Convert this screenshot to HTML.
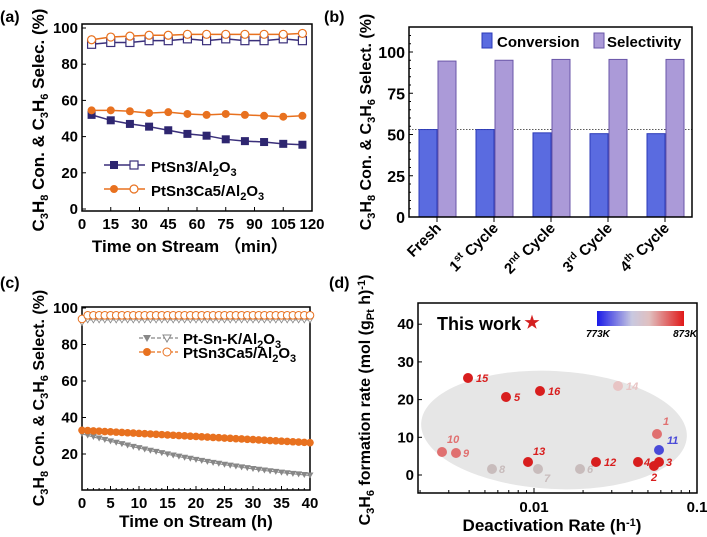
<!DOCTYPE html>
<html><head><meta charset="utf-8"><style>
body{margin:0;background:#fff}
svg{display:block;font-family:"Liberation Sans",Arial,sans-serif;font-weight:bold}
</style></head><body>
<svg id="s" width="707" height="537" viewBox="0 0 707 537" xmlns="http://www.w3.org/2000/svg">
<!-- Panel a -->
<text x="0" y="22" font-size="16">(a)</text>
<text transform="translate(44,120) rotate(-90)" text-anchor="middle" font-size="17">C<tspan font-size="11" dy="4">3</tspan><tspan dy="-4">H</tspan><tspan font-size="11" dy="4">8</tspan><tspan dy="-4"> Con. &amp; C</tspan><tspan font-size="11" dy="4">3</tspan><tspan dy="-4">H</tspan><tspan font-size="11" dy="4">6</tspan><tspan dy="-4"> Selec. (%)</tspan></text>
<rect x="82" y="24" width="230" height="187" fill="none" stroke="#000" stroke-width="1.5"/>
<g id="ga"></g>
<text x="190" y="252" text-anchor="middle" font-size="17">Time on Stream （min）</text>
<line x1="104" y1="165" x2="145" y2="165" stroke="#3a2f7a" stroke-width="1.5"/>
<rect x="110" y="161" width="8" height="8" fill="#2e2670"/>
<rect x="130" y="161" width="8" height="8" fill="#fff" stroke="#3a2f7a" stroke-width="1.2"/>
<text x="151" y="172" font-size="15">PtSn3/Al<tspan font-size="11" dy="4">2</tspan><tspan dy="-4">O</tspan><tspan font-size="11" dy="4">3</tspan></text>
<line x1="104" y1="189" x2="145" y2="189" stroke="#e8711f" stroke-width="1.5"/>
<circle cx="114" cy="189" r="4" fill="#e8711f"/>
<circle cx="134" cy="189" r="4" fill="#fff" stroke="#e8711f" stroke-width="1.2"/>
<text x="151" y="196" font-size="15">PtSn3Ca5/Al<tspan font-size="11" dy="4">2</tspan><tspan dy="-4">O</tspan><tspan font-size="11" dy="4">3</tspan></text>

<!-- Panel b -->
<text x="324" y="22" font-size="16">(b)</text>
<text transform="translate(371,122) rotate(-90)" text-anchor="middle" font-size="16">C<tspan font-size="11" dy="4">3</tspan><tspan dy="-4">H</tspan><tspan font-size="11" dy="4">8</tspan><tspan dy="-4"> Con. &amp; C</tspan><tspan font-size="11" dy="4">3</tspan><tspan dy="-4">H</tspan><tspan font-size="11" dy="4">6</tspan><tspan dy="-4"> Select. (%)</tspan></text>
<g id="gb"></g>
<rect x="409" y="27" width="283" height="190" fill="none" stroke="#000" stroke-width="1.5"/>
<rect x="482" y="33" width="10" height="15" fill="#5a6be0" stroke="#2b3ab8"/>
<text x="497" y="47" font-size="15">Conversion</text>
<rect x="594" y="33" width="10" height="15" fill="#ab9ad8" stroke="#6a56a8"/>
<text x="607" y="47" font-size="15">Selectivity</text>

<!-- Panel c -->
<text x="0" y="288" font-size="16">(c)</text>
<text transform="translate(44,398) rotate(-90)" text-anchor="middle" font-size="16">C<tspan font-size="11" dy="4">3</tspan><tspan dy="-4">H</tspan><tspan font-size="11" dy="4">8</tspan><tspan dy="-4"> Con. &amp; C</tspan><tspan font-size="11" dy="4">3</tspan><tspan dy="-4">H</tspan><tspan font-size="11" dy="4">6</tspan><tspan dy="-4"> Select. (%)</tspan></text>
<rect x="82" y="307" width="228" height="183" fill="none" stroke="#000" stroke-width="1.5"/>
<g id="gc"></g>
<text x="196" y="527" text-anchor="middle" font-size="17">Time on Stream (h)</text>
<line x1="139" y1="338" x2="178" y2="338" stroke="#888" stroke-width="1.2" stroke-dasharray="4,2"/>
<path d="M143,335 l8,0 l-4,7z" fill="#888"/>
<path d="M163,335 l8,0 l-4,7z" fill="#fff" stroke="#888"/>
<text x="183" y="344" font-size="15">Pt-Sn-K/Al<tspan font-size="11" dy="4">2</tspan><tspan dy="-4">O</tspan><tspan font-size="11" dy="4">3</tspan></text>
<line x1="139" y1="352" x2="178" y2="352" stroke="#e8711f" stroke-width="1.2" stroke-dasharray="4,2"/>
<circle cx="147" cy="352" r="4" fill="#e8711f"/>
<circle cx="167" cy="352" r="4" fill="#fff" stroke="#e8711f"/>
<text x="183" y="358" font-size="15">PtSn3Ca5/Al<tspan font-size="11" dy="4">2</tspan><tspan dy="-4">O</tspan><tspan font-size="11" dy="4">3</tspan></text>

<!-- Panel d -->
<text x="329" y="288" font-size="16">(d)</text>
<text transform="translate(370,400) rotate(-90)" text-anchor="middle" font-size="16">C<tspan font-size="11" dy="4">3</tspan><tspan dy="-4">H</tspan><tspan font-size="11" dy="4">6</tspan><tspan dy="-4"> formation rate (mol (g</tspan><tspan font-size="11" dy="4">Pt</tspan><tspan dy="-4"> h)</tspan><tspan font-size="11" dy="-5">-1</tspan><tspan dy="5">)</tspan></text>
<ellipse cx="554" cy="430" rx="133" ry="59" fill="#e6e6e6" transform="rotate(3 554 430)"/>
<rect x="418" y="303" width="279" height="190" fill="none" stroke="#000" stroke-width="1.5"/>
<g id="gd"></g>
<text x="437" y="330" font-size="18">This work</text>
<text x="532" y="328" text-anchor="middle" font-size="17" fill="#d42020">★</text>
<defs><linearGradient id="cb"><stop offset="0" stop-color="#1a1ae8"/><stop offset="0.4" stop-color="#c8c8e0"/><stop offset="0.6" stop-color="#e0c0c0"/><stop offset="1" stop-color="#e01818"/></linearGradient></defs>
<rect x="597" y="311" width="87" height="15" fill="url(#cb)"/>
<text x="586" y="337" font-size="10" font-style="italic">773K</text>
<text x="697" y="337" font-size="10" font-style="italic" text-anchor="end">873K</text>
<text x="552" y="531" text-anchor="middle" font-size="17">Deactivation Rate (h<tspan font-size="11" dy="-5">-1</tspan><tspan dy="5">)</tspan></text>
</svg>
<script>
const NS="http://www.w3.org/2000/svg";
function el(g,t,a,txt){const e=document.createElementNS(NS,t);for(const k in a)e.setAttribute(k,a[k]);if(txt!=null)e.textContent=txt;document.getElementById(g).appendChild(e);return e;}
{const X=t=>82+t*230/120,Y=v=>209-v*1.81;
for(let v=0;v<=100;v+=20){el('ga','text',{x:78,y:Y(v)+5,'text-anchor':'end','font-size':15},v);el('ga','line',{x1:82,x2:86,y1:Y(v),y2:Y(v),stroke:'#000'});}
for(let t=0;t<=120;t+=15){el('ga','text',{x:X(t),y:229,'text-anchor':'middle','font-size':15},t);el('ga','line',{x1:X(t),x2:X(t),y1:211,y2:207,stroke:'#000'});}
const ts=[5,15,25,35,45,55,65,75,85,95,105,115];
const c1=[52,49,47,45.5,43.5,41.5,40.5,38.5,37.5,37,36,35.5],s1=[91,92,92,93,93,94,93,94,93,93,94,93];
const c2=[54.5,54.5,54,53,53.5,52.5,52,52.5,52,51.5,51,51.5],s2=[93.5,95,95.5,96,96,96.5,96.5,96.5,96.5,96.5,96.5,97];
function line(d,col){el('ga','polyline',{points:ts.map((t,i)=>X(t)+','+Y(d[i])).join(' '),fill:'none',stroke:col,'stroke-width':1.5});}
line(c1,'#3a2f7a');line(s1,'#3a2f7a');line(c2,'#e8711f');line(s2,'#e8711f');
ts.forEach((t,i)=>{el('ga','rect',{x:X(t)-4,y:Y(c1[i])-4,width:8,height:8,fill:'#2e2670'});
el('ga','rect',{x:X(t)-4,y:Y(s1[i])-4,width:8,height:8,fill:'#fff',stroke:'#3a2f7a','stroke-width':1.2});
el('ga','circle',{cx:X(t),cy:Y(c2[i]),r:4,fill:'#e8711f'});
el('ga','circle',{cx:X(t),cy:Y(s2[i]),r:4,fill:'#fff',stroke:'#e8711f','stroke-width':1.2});});}
{const Y=v=>217-v*1.65;
for(let v=0;v<=100;v+=25){el('gb','text',{x:405,y:Y(v)+6,'text-anchor':'end','font-size':16},v);el('gb','line',{x1:409,x2:413,y1:Y(v),y2:Y(v),stroke:'#000'});}
for(let v=5;v<=110;v+=5){if(v%25)el('gb','line',{x1:409,x2:411,y1:Y(v),y2:Y(v),stroke:'#000'});}
el('gb','line',{x1:409,x2:692,y1:Y(53),y2:Y(53),stroke:'#444','stroke-width':0.8,'stroke-dasharray':'1.5,1.5'});
const cv=[53,53,51,50.5,50.5],sv=[94.5,95,95.5,95.5,95.5];
const labs=['Fresh','1|st| Cycle','2|nd| Cycle','3|rd| Cycle','4|th| Cycle'];
for(let i=0;i<5;i++){const c=437+i*57;
el('gb','rect',{x:c-18,y:Y(cv[i]),width:18,height:cv[i]*1.65,fill:'#5a6be0',stroke:'#2b3ab8'});
el('gb','rect',{x:c+1,y:Y(sv[i]),width:18,height:sv[i]*1.65,fill:'#ab9ad8',stroke:'#6a56a8'});
el('gb','line',{x1:c,x2:c,y1:217,y2:222,stroke:'#000'});
const t=el('gb','text',{transform:`translate(${c+5},229) rotate(-45)`,'text-anchor':'end','font-size':15});
const p=labs[i].split('|');
if(p.length==1)t.textContent=p[0];else{t.textContent=p[0];const a=document.createElementNS(NS,'tspan');a.setAttribute('font-size','10');a.setAttribute('dy','-6');a.textContent=p[1];t.appendChild(a);const b=document.createElementNS(NS,'tspan');b.setAttribute('dy','6');b.textContent=p[2];t.appendChild(b);}}}
{const X=t=>82+t*5.7,Y=v=>490.5-v*1.825;
for(let v=20;v<=100;v+=20){el('gc','text',{x:78,y:Y(v)+5,'text-anchor':'end','font-size':15},v);el('gc','line',{x1:82,x2:86,y1:Y(v),y2:Y(v),stroke:'#000'});}
for(let t=0;t<=40;t+=5){el('gc','text',{x:X(t),y:508,'text-anchor':'middle','font-size':15},t);el('gc','line',{x1:X(t),x2:X(t),y1:490,y2:486,stroke:'#000'});}
for(let t=1;t<40;t++)if(t%5)el('gc','line',{x1:X(t),x2:X(t),y1:490,y2:488,stroke:'#000'});
const T=[];for(let t=0;t<=40;t++)T.push(t);
const g1=T.map(t=>31-0.85*t+0.007*t*t),o1=T.map(t=>33-0.17*t),gs=T.map(t=>t<1?92:93.5),os=T.map(t=>t<1?94:96);
[[g1,'#888'],[o1,'#e8711f'],[gs,'#888'],[os,'#e8711f']].forEach(([d,c])=>el('gc','polyline',{points:T.map((t,i)=>X(t)+','+Y(d[i])).join(' '),fill:'none',stroke:c,'stroke-width':1}));
T.forEach((t,i)=>{const x=X(t);
el('gc','path',{d:`M${x-3.5},${Y(gs[i])-3}l7,0l-3.5,6z`,fill:'#fff',stroke:'#888','stroke-width':0.8});
el('gc','circle',{cx:x,cy:Y(os[i]),r:3.8,fill:'#fff',stroke:'#e8711f','stroke-width':1});
el('gc','path',{d:`M${x-3.5},${Y(g1[i])-3}l7,0l-3.5,6z`,fill:'#888'});
el('gc','circle',{cx:x,cy:Y(o1[i]),r:3.8,fill:'#e8711f'});});}
{const Y=v=>475-v*3.77;
for(let v=0;v<=40;v+=10){el('gd','text',{x:414,y:Y(v)+5,'text-anchor':'end','font-size':15},v);el('gd','line',{x1:418,x2:422,y1:Y(v),y2:Y(v),stroke:'#000'});}
el('gd','text',{x:534,y:512,'text-anchor':'middle','font-size':15},'0.01');
el('gd','text',{x:697,y:512,'text-anchor':'middle','font-size':15},'0.1');
[534,697].forEach(x=>el('gd','line',{x1:x,x2:x,y1:493,y2:488,stroke:'#000'}));
for(let k=2;k<=9;k++){const x=534+163*Math.log10(k);el('gd','line',{x1:x,x2:x,y1:493,y2:490,stroke:'#000'});const x2=534-163*Math.log10(10/k);if(x2>418)el('gd','line',{x1:x2,x2:x2,y1:493,y2:490,stroke:'#000'});}
const R='#d81e1e',P='#e07070',L='#e8c4c4',G='#c8bcbc',B='#4a4ad8';
const pts=[[468,378,'15',R,8,4],[506,397,'5',R,8,4],[540,391,'16',R,8,4],[618,386,'14',L,8,4],[657,434,'1',P,6,-9],[659,450,'11',B,8,-6],
[442,452,'10',P,5,-9],[456,453,'9',P,7,4],[492,469,'8',G,7,4],[528,462,'13',R,5,-7],[538,469,'7',G,6,13],[580,469,'6',G,7,4],[596,462,'12',R,8,4],
[638,462,'4',R,6,4],[659,462,'3',R,7,4],[654,466,'2',R,-3,15]];
pts.forEach(p=>el('gd','circle',{cx:p[0],cy:p[1],r:5,fill:p[3]}));
pts.forEach(p=>el('gd','text',{x:p[0]+p[4],y:p[1]+p[5],'font-size':11,'font-style':'italic',fill:p[3]},p[2]));}
</script>
</body></html>
